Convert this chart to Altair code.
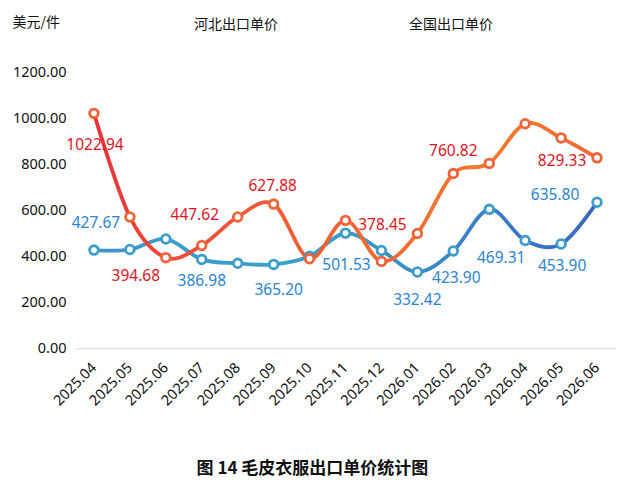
import altair as alt
import pandas as pd

months = ["2025.04", "2025.05", "2025.06", "2025.07", "2025.08", "2025.09", "2025.10",
          "2025.11", "2025.12", "2026.01", "2026.02", "2026.03", "2026.04", "2026.05", "2026.06"]
hebei = [1022.94, 572, 394.68, 447.62, 572, 627.88, 390, 557, 378.45, 500, 760.82, 805, 978, 916, 829.33]
national = [427.67, 430, 476, 386.98, 370, 365.20, 401, 501.53, 426, 332.42, 423.90, 605, 469.31, 453.90, 635.80]
series_names = ["河北出口单价", "全国出口单价"]
y_title = "美元/件"
caption = "图 14 毛皮衣服出口单价统计图"

hebei_label_months = ["2025.04", "2025.06", "2025.07", "2025.09", "2025.12", "2026.02", "2026.06"]
national_label_months = ["2025.04", "2025.07", "2025.09", "2025.11", "2026.01", "2026.02",
                         "2026.04", "2026.05", "2026.06"]

# label offsets (pixels) -- layout only
hebei_offsets = [(1, 32), (-30, 18), (-7, -30), (-1, -18), (1, -36), (0, -23), (-35, 3)]
national_offsets = [(2, -27), (0, 22), (5, 26), (1, 32), (0, 28), (3, 27), (-24, 17), (1, 22), (-42, -7)]

df_h = pd.DataFrame({"month": months, "value": hebei})
df_n = pd.DataFrame({"month": months, "value": national})

W, H = 539, 275.6
NUM_FONT = "Noto Sans"
CJK_FONT = "Noto Sans CJK SC"

x_enc = alt.X("month:N", sort=months, scale=alt.Scale(type="point", padding=0.5),
              axis=alt.Axis(title=None, labelAngle=-45, labelAlign="right", labelBaseline="middle",
                            labelPadding=17, labelFontSize=14.5, labelFont=NUM_FONT, labelColor="#111",
                            ticks=False, grid=False, domain=True, domainColor="#d9d9d9", domainWidth=1))
y_enc = alt.Y("value:Q", scale=alt.Scale(domain=[0, 1200], nice=False, zero=True),
              axis=alt.Axis(values=[0, 200, 400, 600, 800, 1000, 1200], format=".2f",
                            labelFontSize=14.5, labelFont=NUM_FONT, labelColor="#111", labelPadding=10,
                            ticks=False, grid=False, domain=False,
                            title=y_title, titleAngle=0, titleAlign="left", titleBaseline="middle",
                            titleX=-64, titleY=-50, titleFont=CJK_FONT, titleFontSize=14,
                            titleFontWeight="normal", titleColor="#111"))

orange_grad = alt.Gradient(gradient="linear", x1=0, x2=1, y1=0, y2=0, stops=[
    alt.GradientStop(offset=0, color="#e8323c"),
    alt.GradientStop(offset=0.15, color="#ee4a36"),
    alt.GradientStop(offset=0.45, color="#f06232"),
    alt.GradientStop(offset=0.8, color="#f27a2e"),
    alt.GradientStop(offset=1, color="#f06a36"),
])
blue_grad = alt.Gradient(gradient="linear", x1=0, x2=1, y1=0, y2=0, stops=[
    alt.GradientStop(offset=0, color="#3f93cc"),
    alt.GradientStop(offset=0.4, color="#3aa2c8"),
    alt.GradientStop(offset=0.7, color="#3a86c6"),
    alt.GradientStop(offset=1, color="#3a68be"),
])

line_n = alt.Chart(df_n).mark_line(interpolate="cardinal", strokeWidth=3.8, color=blue_grad,
                                   strokeCap="round").encode(x=x_enc, y=y_enc)
line_h = alt.Chart(df_h).mark_line(interpolate="cardinal", strokeWidth=3.8, color=orange_grad,
                                   strokeCap="round").encode(x=x_enc, y=y_enc)
pts_n = alt.Chart(df_n).mark_point(shape="circle", filled=True, fill="white", stroke="#3c9dcc",
                                   strokeWidth=2.8, size=75, opacity=1).encode(x=x_enc, y=y_enc)
pts_h = alt.Chart(df_h).mark_point(shape="circle", filled=True, fill="white", stroke="#ef6438",
                                   strokeWidth=2.8, size=75, opacity=1).encode(x=x_enc, y=y_enc)

layers = [line_n, line_h, pts_n, pts_h]

for m, (dx, dy) in zip(hebei_label_months, hebei_offsets):
    layers.append(
        alt.Chart(df_h).transform_filter(alt.datum.month == m)
        .mark_text(font=NUM_FONT, fontSize=15.5, color="#e0141e", dx=dx, dy=dy,
                   align="center", baseline="middle")
        .encode(x=x_enc, y=y_enc, text=alt.Text("value:Q", format=".2f"))
    )
for m, (dx, dy) in zip(national_label_months, national_offsets):
    layers.append(
        alt.Chart(df_n).transform_filter(alt.datum.month == m)
        .mark_text(font=NUM_FONT, fontSize=15.5, color="#2a84d2", dx=dx, dy=dy,
                   align="center", baseline="middle")
        .encode(x=x_enc, y=y_enc, text=alt.Text("value:Q", format=".2f"))
    )

# series names (legend text) and caption
legend_df = pd.DataFrame({"name": series_names})
for i, px in enumerate([118, 333]):
    layers.append(
        alt.Chart(legend_df).transform_filter(alt.datum.name == series_names[i])
        .mark_text(font=CJK_FONT, fontSize=14, color="#111", align="left", baseline="middle")
        .encode(text="name:N", x=alt.value(px), y=alt.value(-47.5))
    )

cap_df = pd.DataFrame({"t": [caption]})
layers.append(
    alt.Chart(cap_df).mark_text(font=CJK_FONT, fontSize=17, fontWeight="bold", color="#111",
                                align="center", baseline="middle")
    .encode(text="t:N", x=alt.value(236.4), y=alt.value(396))
)

chart = alt.layer(*layers).properties(
    width=W, height=H,
    autosize=alt.AutoSizeParams(type="none"),
    padding={"left": 68, "top": 64.7, "right": 9, "bottom": 134},
    background="white",
).configure_view(stroke=None)

chart.save("out.html", embed_options={"renderer": "svg", "actions": False})
